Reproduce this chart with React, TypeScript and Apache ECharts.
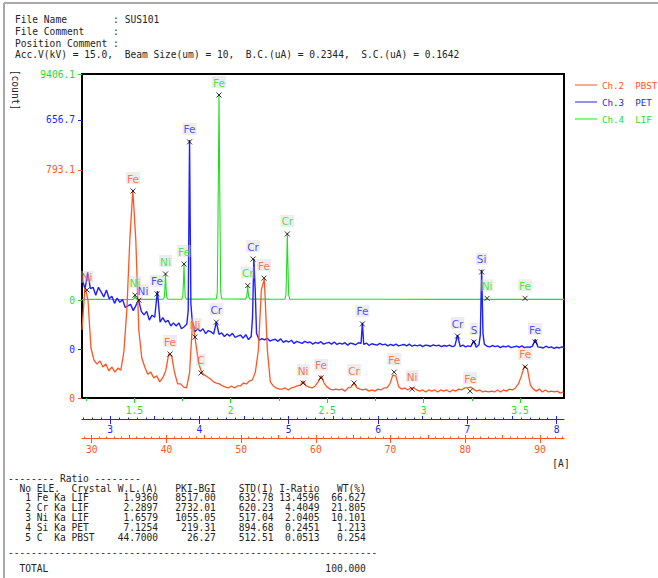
import React, { useEffect, useRef } from "react";
import * as echarts from "echarts";

const FONT = "DejaVu Sans Mono";
const ORANGE = "#ff5522";
const BLUE = "#1f1fff";
const GREEN = "#1ee01e";
const TEXT = "#222";

const headerLines = [
  "File Name        : SUS101",
  "File Comment     :",
  "Position Comment :",
  "Acc.V(kV) = 15.0,  Beam Size(um) = 10,  B.C.(uA) = 0.2344,  S.C.(uA) = 0.1642",
];

const seriesNames = ["Ch.2  PBST", "Ch.3  PET", "Ch.4  LIF"];

// wavelength extents (A) of the three stacked scales
const pbstWlRange = [28.7, 93.2];
const petWlRange = [2.686, 8.082];
const lifWlRange = [1.2288, 3.728];
// intensity extents
const pbstCountRange = [0, 1127.0];
const petCountRange = [-140.5, 788.6];
const lifCountRange = [-4078.7, 9406.1];
// tick labels
const pbstYLabels = [0, 793.1];
const petYLabels = [0, 656.7];
const lifYLabels = [0, 9406.1];
const pbstXLabels = [30, 40, 50, 60, 70, 80, 90];
const petXLabels = [3, 4, 5, 6, 7, 8];
const lifXLabels = [1.5, 2, 2.5, 3, 3.5];

// Ch.2 PBST spectrum, sampled every 0.4 A from 28.7 A
const pbstWlStart = 28.7;
const pbstWlStep = 0.4;
const pbstCounts = [
  237, 386, 341, 174, 132, 118, 129, 108, 118, 94,
  108, 90, 104, 97, 160, 306, 550, 724, 550, 237,
  139, 108, 83, 90, 70, 77, 56, 70, 94, 153,
  146, 87, 49, 49, 38, 35, 90, 268, 195, 122,
  90, 80, 73, 66, 56, 52, 49, 42, 38, 35,
  42, 35, 42, 42, 52, 49, 59, 63, 90, 167,
  376, 414, 167, 56, 42, 35, 31, 31, 35, 28,
  35, 38, 42, 45, 59, 42, 38, 35, 42, 56,
  77, 52, 38, 31, 28, 31, 28, 31, 24, 35,
  38, 52, 35, 31, 28, 31, 24, 28, 24, 31,
  28, 35, 35, 49, 80, 77, 38, 31, 35, 28,
  35, 35, 28, 24, 28, 21, 28, 24, 28, 21,
  28, 24, 28, 21, 28, 24, 31, 28, 35, 35,
  38, 31, 24, 28, 21, 24, 21, 24, 21, 28,
  21, 28, 24, 31, 28, 35, 49, 77, 111, 101,
  45, 31, 24, 31, 21, 28, 21, 24, 21, 24,
  17, 21,
];

// Ch.3 PET spectrum, sampled every 0.03 A from 2.69 A
const petWlStart = 2.69;
const petWlStep = 0.03;
const petCounts = [
  199, 172, 220, 173, 177, 154, 177, 164, 149, 169,
  144, 151, 131, 146, 134, 142, 119, 124, 128, 110,
  125, 140, 108, 98, 108, 83, 97, 91, 166, 77,
  90, 77, 82, 66, 75, 66, 75, 58, 64, 72,
  599, 80, 49, 58, 51, 58, 44, 53, 49, 43,
  78, 42, 46, 36, 43, 37, 45, 33, 37, 40,
  31, 41, 27, 36, 258, 45, 25, 30, 26, 31,
  23, 26, 28, 22, 29, 19, 24, 20, 25, 16,
  22, 19, 16, 22, 18, 20, 14, 19, 16, 21,
  14, 17, 19, 14, 20, 13, 17, 14, 18, 11,
  17, 15, 12, 18, 16, 13, 17, 10, 15, 13,
  11, 16, 12, 14, 9, 13, 10, 14, 9, 11,
  13, 9, 14, 8, 11, 9, 12, 7, 11, 10,
  8, 12, 9, 11, 7, 10, 8, 11, 7, 9,
  40, 7, 11, 6, 9, 7, 24, 5, 12, 227,
  14, 8, 6, 10, 7, 9, 4, 8, 6, 9,
  4, 6, 8, 5, 9, 4, 6, 5, 8, 28,
  6, 5, 3, 8, 4, 6, 2, 5, 3, 6, 2,
];
// extra readings on the flanks of the sharp PET peaks
const petPeakFlanks = [
  [3.875, 110], [3.905, 130], [4.595, 90], [4.625, 170],
  [5.825, 75], [7.145, 40], [7.175, 45],
];

// Ch.4 LIF spectrum [wavelength, count]
const lifSpectrum = [
  [1.2288, 22], [1.3, 24], [1.4, 22], [1.494, 25], [1.4995, 70], [1.5036, 200],
  [1.5075, 70], [1.513, 26], [1.58, 27], [1.65, 30], [1.6555, 110], [1.659, 520],
  [1.6618, 1100], [1.6646, 520], [1.6681, 110], [1.674, 32], [1.72, 33], [1.746, 35],
  [1.7515, 140], [1.755, 760], [1.7577, 1520], [1.7604, 760], [1.7639, 140], [1.77, 36],
  [1.85, 38], [1.925, 42], [1.9305, 320], [1.935, 4300], [1.9392, 8560], [1.9434, 4300],
  [1.9479, 320], [1.954, 42], [2.0, 40], [2.077, 38], [2.0825, 120], [2.0855, 330],
  [2.088, 620], [2.0905, 330], [2.0935, 120], [2.099, 37], [2.2, 35], [2.281, 34],
  [2.2865, 220], [2.29, 1400], [2.2934, 2780], [2.2968, 1400], [2.3003, 220], [2.306, 34],
  [2.5, 32], [2.8, 30], [3.1, 28], [3.4, 27], [3.728, 26],
];

// identified peaks
const pbstPeakNames = ["Ni", "Fe", "Fe", "Ni", "C", "Fe", "Ni", "Fe", "Cr", "Fe", "Ni", "Fe", "Fe"];
const pbstPeakWl = [29.37, 35.53, 40.48, 43.83, 44.63, 53.06, 58.29, 60.69, 65.11, 70.47, 72.88, 80.64, 88.0];
const pbstPeakCounts = [376, 720, 153, 212, 87, 417, 52, 70, 52, 90, 31, 24, 108];

const petPeakNames = ["Ni", "Fe", "Fe", "Cr", "Cr", "Fe", "Cr", "S", "Si", "Fe"];
const petPeakWl = [3.324, 3.526, 3.89, 4.19, 4.601, 5.825, 6.89, 7.075, 7.16, 7.758];
const petPeakCounts = [140, 158, 594, 77, 258, 72, 37, 20, 221, 20];

const lifPeakNames = ["Ni", "Ni", "Fe", "Fe", "Cr", "Cr", "Ni", "Fe"];
const lifPeakWl = [1.5036, 1.6618, 1.7577, 1.9392, 2.088, 2.2934, 3.329, 3.526];
const lifPeakCounts = [200, 1082, 1498, 8532, 600, 2747, 70, 70];

// quantitative table
const tableEle = ["Fe", "Cr", "Ni", "Si", "C"];
const tableCrystal = ["LIF", "LIF", "LIF", "PET", "PBST"];
const tableWL = ["1.9360", "2.2897", "1.6579", "7.1254", "44.7000"];
const tablePKI = ["8517.00", "2732.01", "1055.05", "219.31", "26.27"];
const tableSTD = ["632.78", "620.23", "517.04", "894.68", "512.51"];
const tableIRatio = ["13.4596", "4.4049", "2.0405", "0.2451", "0.0513"];
const tableWT = ["66.627", "21.805", "10.101", "1.213", "0.254"];
const tableTotal = "100.000";

const nb = (s: string) => s.replace(/ /g, "\u00a0");

function tickValues(range: number[], step: number) {
  const out: number[] = [];
  const k0 = Math.ceil(range[0] / step - 1e-9);
  for (let k = k0; k * step <= range[1] + 1e-9; k++) out.push(+(k * step).toFixed(6));
  return out;
}

function mainX(range: number[], offset: number, labels: number[], ticks: number[], color: string, showLine: boolean, margin: number) {
  return {
    type: "value", position: "bottom", offset, min: range[0], max: range[1],
    axisLine: { show: showLine, onZero: false, lineStyle: { color, width: 1 } },
    splitLine: { show: false },
    axisTick: { show: true, customValues: ticks, length: 5, inside: false, lineStyle: { color, width: 1 } },
    axisLabel: { show: true, customValues: labels, color, fontFamily: FONT, fontSize: 9.6, margin, formatter: (v: number) => String(v) },
  };
}
function tickX(range: number[], offset: number, ticks: number[], length: number, inside: boolean, color: string) {
  return {
    type: "value", position: "bottom", offset, min: range[0], max: range[1],
    axisLine: { show: false, onZero: false },
    splitLine: { show: false },
    axisLabel: { show: false },
    axisTick: { show: true, customValues: ticks, length, inside, lineStyle: { color, width: 1 } },
  };
}
function yAx(range: number[], labels: number[], color: string) {
  return {
    type: "value", position: "left", offset: 0, min: range[0], max: range[1],
    axisLine: { show: false, onZero: false },
    splitLine: { show: false },
    axisTick: { show: true, customValues: labels, length: 4, lineStyle: { color, width: 1 } },
    axisLabel: {
      show: true, customValues: labels, color, fontFamily: FONT, fontSize: 9.6, margin: 7,
      formatter: (v: number) => (v === 0 ? "0" : v.toFixed(1)),
    },
  };
}

const X_MARK = "path://M0,0L10,10M10,0L0,10";

function peakSeries(names: string[], wl: number[], counts: number[], color: string, xi: number, yi: number, offsets: Record<number, number[]> = {}) {
  return {
    name: "peaks-" + xi, type: "scatter", xAxisIndex: xi, yAxisIndex: yi,
    data: names.map((n, i) => {
      const item: any = { name: n, value: [wl[i], counts[i]] };
      if (offsets[i]) item.label = { offset: offsets[i] };
      return item;
    }),
    symbol: X_MARK, symbolSize: 5,
    itemStyle: { color: "none", borderColor: "#000", borderWidth: 1 },
    label: {
      show: true, position: "top", distance: 2, formatter: "{b}", color,
      fontFamily: "DejaVu Sans", fontSize: 10.5,
      backgroundColor: "rgba(205,205,205,0.45)", padding: [1, 1, 0, 1],
    },
    z: 5, silent: true,
  };
}

function buildOption() {
  const pbstData = pbstCounts.map((c, i) => [+(pbstWlStart + i * pbstWlStep).toFixed(4), c]);
  const petData = petCounts
    .map((c, i) => [+(petWlStart + i * petWlStep).toFixed(4), c])
    .concat(petPeakFlanks)
    .sort((a, b) => a[0] - b[0]);
  const lifData = lifSpectrum;

  const textEl = (x: number, y: number, text: string, extra: any = {}) => ({
    type: "text", x, y, scaleY: 1.15,
    style: { text: nb(text), fontFamily: FONT, fontSize: 9.6, fill: TEXT, verticalAlign: "middle", ...extra },
  });

  const tableRows = tableEle.map((e, i) =>
    "   " + (i + 1) + " " + e.padEnd(2) + " Ka " + tableCrystal[i].padEnd(4) +
    tableWL[i].padStart(11) + "   " + tablePKI[i].padStart(7) + tableSTD[i].padStart(10) +
    tableIRatio[i].padStart(8) + tableWT[i].padStart(8));

  const graphics: any[] = [
    { type: "line", shape: { x1: 4, y1: 3, x2: 658, y2: 3 }, style: { stroke: "#a8a8a8", lineWidth: 2 } },
    { type: "line", shape: { x1: 4, y1: 3, x2: 4, y2: 578 }, style: { stroke: "#a8a8a8", lineWidth: 2 } },
    ...headerLines.map((t, i) => textEl(15, [19, 31, 43, 54][i], t)),
    { type: "text", x: 15, y: 90, rotation: -Math.PI / 2, style: { text: "[count]", fontFamily: FONT, fontSize: 9.6, fill: TEXT, align: "center", verticalAlign: "middle" } },
    { type: "text", x: 561, y: 463, style: { text: "[A]", fontFamily: FONT, fontSize: 9.6, fill: TEXT, align: "center", verticalAlign: "middle" } },
    textEl(8, 478, "-------- Ratio --------"),
    textEl(8, 488, "  No ELE.  Crystal W.L.(A)   PKI-BGI    STD(I) I-Ratio   WT(%)"),
    ...tableRows.map((r, i) => textEl(8, 497 + i * 10, r)),
    textEl(8, 552, "-".repeat(64)),
    textEl(8, 568, "  TOTAL".padEnd(55) + tableTotal),
  ];

  return {
    animation: false,
    backgroundColor: "#ffffff",
    grid: { left: 82, top: 74, width: 482, height: 324, show: true, borderColor: "#000", borderWidth: 2, backgroundColor: "transparent" },
    legend: {
      orient: "vertical", left: 575, top: 79, padding: 0, itemWidth: 22, itemHeight: 1, itemGap: 5, icon: "rect",
      selectedMode: false,
      formatter: (n: string) => nb(n),
      textStyle: { fontFamily: FONT, fontSize: 9.2, lineHeight: 12 },
      data: [
        { name: seriesNames[0], textStyle: { color: ORANGE } },
        { name: seriesNames[1], textStyle: { color: BLUE } },
        { name: seriesNames[2], textStyle: { color: GREEN } },
      ],
    },
    xAxis: [
      mainX(lifWlRange, 0, lifXLabels, tickValues(lifWlRange, 0.5), GREEN, false, 7),
      tickX(lifWlRange, 0, tickValues(lifWlRange, 0.25), 3, false, GREEN),
      mainX(petWlRange, 21, petXLabels, tickValues(petWlRange, 1), BLUE, true, 5),
      tickX(petWlRange, 21, tickValues(petWlRange, 0.5), 3, true, BLUE),
      tickX(petWlRange, 21, tickValues(petWlRange, 0.1), 1.5, true, BLUE),
      mainX(pbstWlRange, 40, pbstXLabels, tickValues(pbstWlRange, 10), ORANGE, true, 6),
      tickX(pbstWlRange, 40, tickValues(pbstWlRange, 5), 3, true, ORANGE),
      tickX(pbstWlRange, 40, tickValues(pbstWlRange, 1), 1.5, true, ORANGE),
    ],
    yAxis: [
      yAx(pbstCountRange, pbstYLabels, ORANGE),
      yAx(petCountRange, petYLabels, BLUE),
      yAx(lifCountRange, lifYLabels, GREEN),
    ],
    series: [
      { name: seriesNames[2], type: "line", xAxisIndex: 0, yAxisIndex: 2, data: lifData, showSymbol: false, symbol: "none", lineStyle: { color: GREEN, width: 1.1 }, itemStyle: { color: GREEN }, z: 2 },
      { name: seriesNames[1], type: "line", xAxisIndex: 2, yAxisIndex: 1, data: petData, showSymbol: false, symbol: "none", lineStyle: { color: BLUE, width: 1.4 }, itemStyle: { color: BLUE }, z: 3 },
      { name: seriesNames[0], type: "line", xAxisIndex: 5, yAxisIndex: 0, data: pbstData, showSymbol: false, symbol: "none", lineStyle: { color: ORANGE, width: 1.3 }, itemStyle: { color: ORANGE }, z: 4 },
      peakSeries(lifPeakNames, lifPeakWl, lifPeakCounts, GREEN, 0, 2),
      peakSeries(petPeakNames, petPeakWl, petPeakCounts, BLUE, 2, 1, { 0: [4, 3] }),
      peakSeries(pbstPeakNames, pbstPeakWl, pbstPeakCounts, ORANGE, 5, 0),
    ],
    graphic: graphics,
  };
}

export default function App() {
  const ref = useRef<HTMLDivElement>(null);
  useEffect(() => {
    if (!ref.current) return;
    const chart = echarts.init(ref.current, null, { renderer: "svg" });
    chart.setOption(buildOption() as any);
    return () => chart.dispose();
  }, []);
  return (
    <div
      ref={ref}
      style={{ position: "fixed", left: 0, top: 0, width: 658, height: 578, background: "#fff" }}
    />
  );
}
